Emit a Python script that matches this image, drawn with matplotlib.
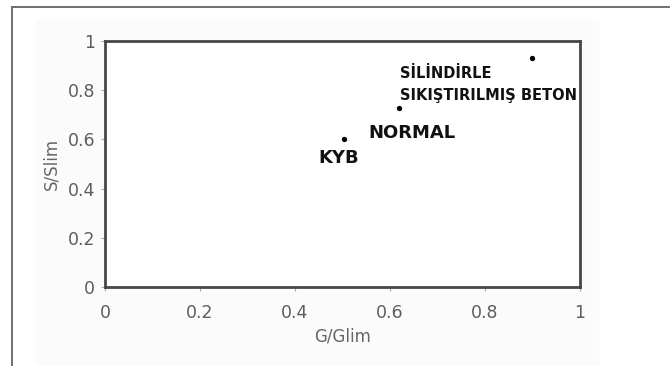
import matplotlib
matplotlib.use("Agg")
import matplotlib.pyplot as plt
from matplotlib.lines import Line2D
from matplotlib.patches import Rectangle

# data
names = ["KYB", "NORMAL", "SİLİNDİRLE\nSIKIŞTIRILMIŞ BETON"]
g_ratio = [0.503, 0.619, 0.899]
s_ratio = [0.600, 0.728, 0.930]
ticks = [0, 0.2, 0.4, 0.6, 0.8, 1]
tick_labels = ["0", "0.2", "0.4", "0.6", "0.8", "1"]

W, H = 670, 366
fig = plt.figure(figsize=(W / 100, H / 100), dpi=100)
fig.patch.set_facecolor("white")

# faint scanned-page area and outer frame
fig.patches.append(Rectangle((36 / W, 0), (598 - 36) / W, 1 - 20 / H,
                             transform=fig.transFigure, color="#fbfbfb", zorder=-5))
fig.lines.append(Line2D([12.5 / W, 1], [1 - 6.5 / H, 1 - 6.5 / H],
                        transform=fig.transFigure, color="#707070", lw=1.4))
fig.lines.append(Line2D([12.5 / W, 12.5 / W], [0, 1 - 6.5 / H],
                        transform=fig.transFigure, color="#707070", lw=1.4))

ax = fig.add_axes([105 / W, 79 / H, 475 / W, 246 / H])
ax.set_facecolor("white")
ax.plot(g_ratio, s_ratio, "o", color="black", markersize=2.8)

# label offsets (pixels) from each point
label_specs = [
    (names[0], (-5, -19), 13, "center"),
    (names[1], (13, -25), 13, "center"),
]
for (txt, off, fs, ha), x, y in zip(label_specs, g_ratio[:2], s_ratio[:2]):
    ax.annotate(txt, (x, y), xytext=off, textcoords="offset pixels",
                ha=ha, va="center", fontsize=fs, fontweight="heavy",
                color="#111111")

top, bottom = names[2].split("\n")
ax.annotate(top, (g_ratio[2], s_ratio[2]), xytext=(-132, -15),
            textcoords="offset pixels", ha="left", va="center",
            fontsize=10.5, fontweight="heavy", color="#111111")
ax.annotate(bottom, (g_ratio[2], s_ratio[2]), xytext=(-132, -37),
            textcoords="offset pixels", ha="left", va="center",
            fontsize=10.5, fontweight="heavy", color="#111111")

ax.set_xlim(0, 1)
ax.set_ylim(0, 1)
ax.set_xticks(ticks)
ax.set_xticklabels(tick_labels)
ax.set_yticks(ticks)
ax.set_yticklabels(tick_labels)
ax.tick_params(axis="both", direction="out", length=3, width=0.8,
               color="#aaaaaa", labelcolor="#5e5e5e", labelsize=12.5)
ax.tick_params(axis="x", pad=9)
ax.tick_params(axis="y", pad=4)

for sp in ax.spines.values():
    sp.set_color("#4d4545")
    sp.set_linewidth(2.0)

ax.set_xlabel("G/Glim", fontsize=12, color="#666666", labelpad=4)
ax.set_ylabel("S/Slim", fontsize=12, color="#666666", labelpad=5)

fig.savefig("out.png", dpi=100)
